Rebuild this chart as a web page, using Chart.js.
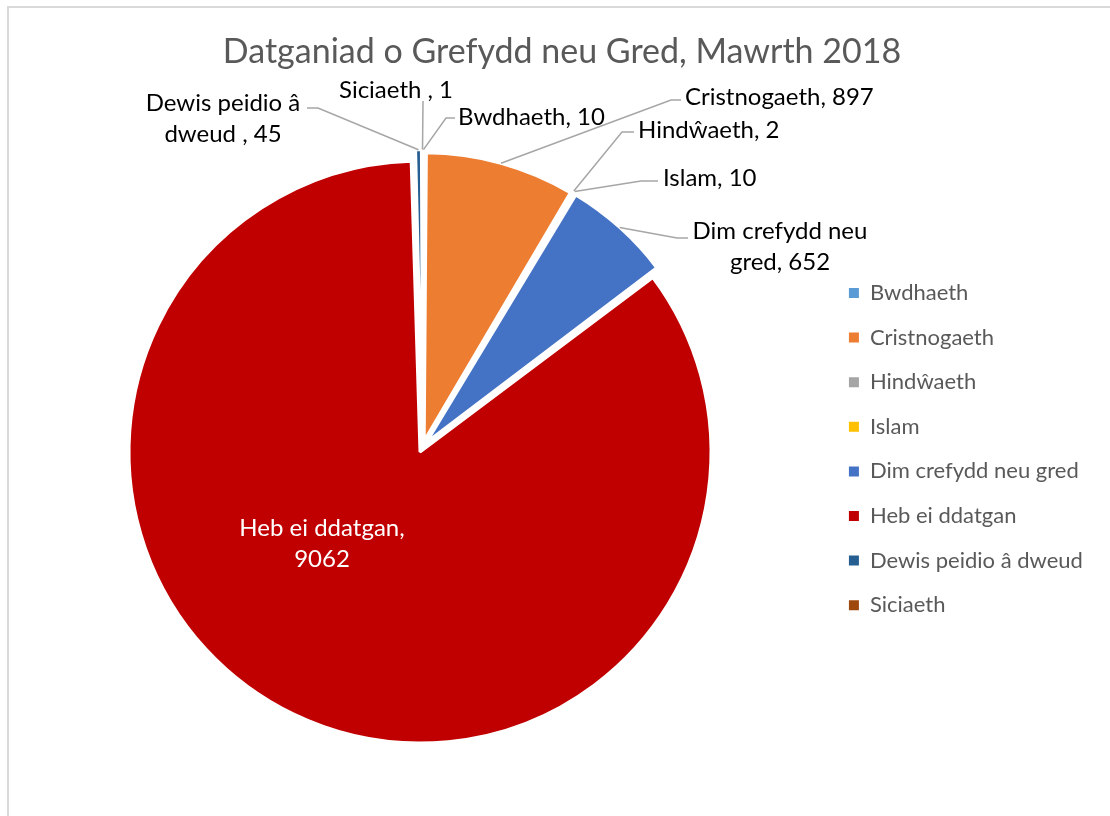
<!DOCTYPE html>
<html>
<head>
<meta charset="utf-8">
<script src="https://cdn.jsdelivr.net/npm/chart.js@4.4.1/dist/chart.umd.min.js"></script>
<style>
  html, body { margin: 0; padding: 0; background: #fff; overflow: hidden; }
  #wrap { position: relative; width: 1110px; height: 816px; }
  #frame { position: absolute; left: 7px; top: 6px; width: 1200px; height: 900px; border: 2px solid #d9d9d9; box-sizing: border-box; pointer-events: none; }
  canvas { position: absolute; left: 0; top: 0; }
</style>
</head>
<body>
<div id="wrap">
  <div id="frame"></div>
  <canvas id="pieChart" width="1110" height="816"></canvas>
</div>
<script>
// Data
const categories = ['Bwdhaeth', 'Cristnogaeth', 'Hindŵaeth', 'Islam', 'Dim crefydd neu gred', 'Heb ei ddatgan', 'Dewis peidio â dweud ', 'Siciaeth '];
const counts = [10, 897, 2, 10, 652, 9062, 45, 1];
const sliceColors = ['#5B9BD5', '#ED7D31', '#A5A5A5', '#FFC000', '#4472C4', '#C00000', '#255E91', '#9E480E'];

const FONT = 'Lato, "Open Sans", sans-serif';
const LABEL_SIZE = 24;
const PIE_X = 422.6, PIE_Y = 446.6;

// where each data label sits, and the bend of its leader line
const labelSpots = [
    { x: 458, y: 117, align: 'left', maxWidth: 400, elbow: [446, 118], end: [455, 118] },
    { x: 685, y: 97, align: 'left', maxWidth: 400, elbow: [671, 100], end: [681, 100] },
    { x: 638, y: 130, align: 'left', maxWidth: 400, elbow: [622, 132], end: [634, 132] },
    { x: 663, y: 178, align: 'left', maxWidth: 400, elbow: [641, 181], end: [658, 181] },
    { x: 780, y: 231, align: 'center', maxWidth: 215, elbow: [677, 238], end: [688, 238] },
    { x: 322, y: 528, align: 'center', maxWidth: 215, color: '#ffffff' },
    { x: 223, y: 103, align: 'center', maxWidth: 190, elbow: [318, 108], end: [307, 108] },
    { x: 396, y: 90, align: 'center', maxWidth: 400, elbow: [423, 101], end: [423, 101] }
];

function wrapWords(ctx, text, maxWidth) {
    const words = text.split(/\s+/).filter(w => w.length);
    const lines = [];
    let line = '';
    words.forEach(w => {
        const test = line ? line + ' ' + w : w;
        if (line && ctx.measureText(test).width > maxWidth) {
            lines.push(line);
            line = w;
        } else {
            line = test;
        }
    });
    if (line) lines.push(line);
    return lines;
}

// Put the pie where the reference has it (legend and title keep their own spots)
const pieCenter = {
    id: 'pieCenter',
    afterLayout(chart) {
        const a = chart.chartArea;
        const w = a.right - a.left, h = a.bottom - a.top;
        a.left = PIE_X - w / 2; a.right = PIE_X + w / 2;
        a.top = PIE_Y - h / 2; a.bottom = PIE_Y + h / 2;
    }
};

// Data labels with leader lines
const leaderLabels = {
    id: 'leaderLabels',
    afterDatasetsDraw(chart) {
        const ctx = chart.ctx;
        const arcs = chart.getDatasetMeta(0).data;
        ctx.save();
        ctx.font = `${LABEL_SIZE}px ${FONT}`;
        ctx.textBaseline = 'middle';
        arcs.forEach((arc, i) => {
            const spot = labelSpots[i];
            if (spot.elbow) {
                const mid = (arc.startAngle + arc.endAngle) / 2;
                const circ = arc.endAngle - arc.startAngle;
                const push = (arc.options.offset || 0) / 4;
                const fix = 1 - Math.sin(Math.min(Math.PI, circ));
                const r = push + arc.outerRadius + push * fix;
                ctx.beginPath();
                ctx.moveTo(arc.x + Math.cos(mid) * r, arc.y + Math.sin(mid) * r);
                ctx.lineTo(spot.elbow[0], spot.elbow[1]);
                ctx.lineTo(spot.end[0], spot.end[1]);
                ctx.strokeStyle = '#A6A6A6';
                ctx.lineWidth = 1.5;
                ctx.stroke();
            }
            const lines = wrapWords(ctx, `${categories[i]}, ${counts[i]}`, spot.maxWidth);
            ctx.fillStyle = spot.color || '#000000';
            ctx.textAlign = spot.align;
            lines.forEach((ln, k) => ctx.fillText(ln, spot.x, spot.y + k * 31.5));
        });
        ctx.restore();
    }
};

new Chart(document.getElementById('pieChart'), {
    type: 'pie',
    data: {
        labels: categories,
        datasets: [{
            data: counts,
            backgroundColor: sliceColors,
            borderColor: '#ffffff',
            borderWidth: 3,
            offset: 24
        }]
    },
    options: {
        responsive: false,
        animation: false,
        radius: 285,
        layout: { padding: { left: 25.5, right: 11.5, top: 0, bottom: 0 } },
        plugins: {
            title: {
                display: true,
                text: 'Datganiad o Grefydd neu Gred, Mawrth 2018',
                color: '#595959',
                font: { family: FONT, size: 34, weight: 'normal' },
                padding: { top: 31.6, bottom: 9.8 }
            },
            legend: {
                position: 'right',
                fullSize: false,
                labels: {
                    boxWidth: 10,
                    boxHeight: 10,
                    padding: 22.6,
                    color: '#595959',
                    font: { family: FONT, size: 22 },
                    generateLabels: (chart) => Chart.overrides.pie.plugins.legend.labels.generateLabels(chart)
                        .map(item => ({ ...item, lineWidth: 0 }))
                }
            },
            tooltip: { enabled: false }
        }
    },
    plugins: [pieCenter, leaderLabels]
});
</script>
</body>
</html>
